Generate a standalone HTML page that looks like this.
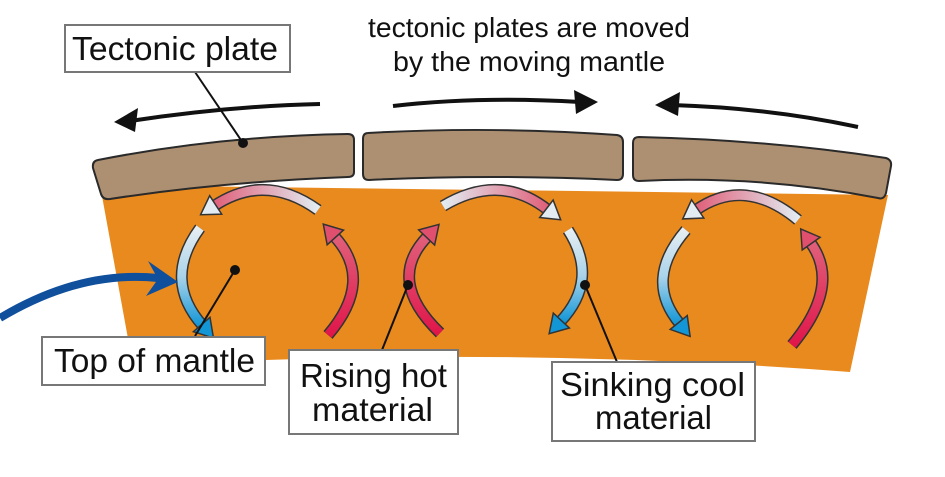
<!DOCTYPE html>
<html><head><meta charset="utf-8"><style>
html,body{margin:0;padding:0;background:#fff;}
svg{display:block}
text{font-family:"Liberation Sans",sans-serif;fill:#111}
</style></head><body>
<svg id="s" width="945" height="477" viewBox="0 0 945 477" xmlns="http://www.w3.org/2000/svg">
<defs>
<linearGradient id="pl" x1="0" y1="0" x2="1" y2="0"><stop offset="0" stop-color="#e2ecf2"/><stop offset="1" stop-color="#e0607a"/></linearGradient>
<linearGradient id="pr" x1="0" y1="0" x2="1" y2="0"><stop offset="0" stop-color="#e0607a"/><stop offset="1" stop-color="#e2ecf2"/></linearGradient>
<linearGradient id="lb" x1="0" y1="0" x2="0" y2="1"><stop offset="0" stop-color="#e6eef2"/><stop offset="0.5" stop-color="#a9d3ea"/><stop offset="1" stop-color="#1296d6"/></linearGradient>
<linearGradient id="rd" x1="0" y1="1" x2="0" y2="0"><stop offset="0" stop-color="#e0164a"/><stop offset="1" stop-color="#e0607a"/></linearGradient>
</defs>
<!-- mantle -->
<path d="M100,185 L888,195 L850,372 Q500,345 133,366 Z" fill="#e98a1e"/>
<!-- plates -->
<g fill="#ad9072" stroke="#2a2a2a" stroke-width="2">
<path d="M98,160 Q220,136 348,134 Q354,134 354,140 L354,172 Q354,177 348,177 Q220,182 110,199 Q103,200 101,194 L93,168 Q92,161 98,160 Z"/>
<path d="M368,133 Q490,126 617,135 Q623,136 623,142 L623,174 Q623,180 617,180 Q490,174 369,180 Q363,180 363,174 L363,139 Q363,133 368,133 Z"/>
<path d="M639,137 Q770,140 886,158 Q892,160 891,166 L886,193 Q884,200 878,198 Q760,175 639,181 Q633,181 633,175 L633,143 Q633,137 639,137 Z"/>
</g>
<!-- top arrows -->
<g stroke="#111" stroke-width="4" fill="none">
<path d="M320,104 Q230,106 130,121"/>
<path d="M393,106 Q480,96 580,102"/>
<path d="M858,127 Q770,108 672,105"/>
</g>
<g fill="#111">
<polygon points="114,122 138,108 135,132"/>
<polygon points="598,102 574,90 576,114"/>
<polygon points="655,105 680,92 678,116"/>
</g>
<!-- convection arrows -->
<g id="arcs" fill="none">
<path class="a" data-c="#e2ecf2" d="M318,210 Q265,172 214,206" stroke="url(#pr)"/>
<path class="a" data-c="#1296d6" d="M200,228 Q162,280 203,326" stroke="url(#lb)"/>
<path class="a" data-c="#e0506e" d="M328,335 Q375,280 334,236" stroke="url(#rd)"/>
<path class="a" data-c="#e0506e" d="M440,333 Q385,280 428,236" stroke="url(#rd)"/>
<path class="a" data-c="#e2ecf2" d="M443,206 Q500,172 548,210" stroke="url(#pl)"/>
<path class="a" data-c="#1296d6" d="M568,230 Q600,280 560,322" stroke="url(#lb)"/>
<path class="a" data-c="#e2ecf2" d="M798,220 Q745,176 696,210" stroke="url(#pr)"/>
<path class="a" data-c="#1296d6" d="M686,230 Q643,280 680,324" stroke="url(#lb)"/>
<path class="a" data-c="#e0506e" d="M792,345 Q842,285 810,242" stroke="url(#rd)"/>
</g>
<g id="heads" stroke="#333" stroke-width="1.5"></g>
<!-- blue pointer -->
<path d="M0,318 Q80,270 158,278" stroke="#0f4f9c" stroke-width="8" fill="none"/>
<polygon points="178,282 148,261 158,279 146,296" fill="#0f4f9c"/>
<!-- leader lines -->
<g stroke="#111" stroke-width="2">
<line x1="195" y1="72" x2="243" y2="143"/>
<line x1="235" y1="270" x2="195" y2="336"/>
<line x1="408" y1="285" x2="382" y2="350"/>
<line x1="585" y1="285" x2="617" y2="362"/>
</g>
<g fill="#111"><circle cx="243" cy="143" r="5"/><circle cx="235" cy="270" r="5"/><circle cx="408" cy="285" r="5"/><circle cx="585" cy="285" r="5"/></g>
<!-- boxes -->
<g fill="#fff" stroke="#777" stroke-width="2">
<rect x="65" y="25" width="225" height="47"/>
<rect x="42" y="337" width="223" height="48"/>
<rect x="289" y="350" width="169" height="84"/>
<rect x="552" y="362" width="203" height="79"/>
</g>
<g font-size="33" lengthAdjust="spacingAndGlyphs">
<text x="72" y="60" textLength="206" lengthAdjust="spacingAndGlyphs">Tectonic plate</text>
<text x="54" y="372" textLength="201" lengthAdjust="spacingAndGlyphs">Top of mantle</text>
<text x="300" y="387" textLength="147" lengthAdjust="spacingAndGlyphs">Rising hot</text>
<text x="312" y="421" textLength="121" lengthAdjust="spacingAndGlyphs">material</text>
<text x="560" y="396" textLength="185" lengthAdjust="spacingAndGlyphs">Sinking cool</text>
<text x="595" y="429" textLength="117" lengthAdjust="spacingAndGlyphs">material</text>
</g>
<g font-size="28">
<text x="368" y="37" textLength="322" lengthAdjust="spacingAndGlyphs">tectonic plates are moved</text>
<text x="393" y="71" textLength="272" lengthAdjust="spacingAndGlyphs">by the moving mantle</text>
</g>
</svg>
<script>
(function(){
var NS="http://www.w3.org/2000/svg";
var arcs=document.querySelectorAll('#arcs path.a');
var heads=document.getElementById('heads');
var g=document.getElementById('arcs');
arcs.forEach(function(p){
  var o=p.cloneNode();o.setAttribute('stroke','#333');o.setAttribute('stroke-width','12');o.removeAttribute('class');
  g.insertBefore(o,g.firstChild);
  p.setAttribute('stroke-width','9');
  var L=p.getTotalLength(),e=p.getPointAtLength(L),b=p.getPointAtLength(L-3);
  var dx=e.x-b.x,dy=e.y-b.y,m=Math.hypot(dx,dy);dx/=m;dy/=m;
  var px=-dy,py=dx;
  var tx=e.x+dx*16,ty=e.y+dy*16,bx=e.x-dx*2,by=e.y-dy*2;
  var poly=document.createElementNS(NS,'polygon');
  poly.setAttribute('points',tx+','+ty+' '+(bx+px*11)+','+(by+py*11)+' '+(bx-px*11)+','+(by-py*11));
  poly.setAttribute('fill',p.getAttribute('data-c'));
  heads.appendChild(poly);
});
})();
</script>
</body></html>
